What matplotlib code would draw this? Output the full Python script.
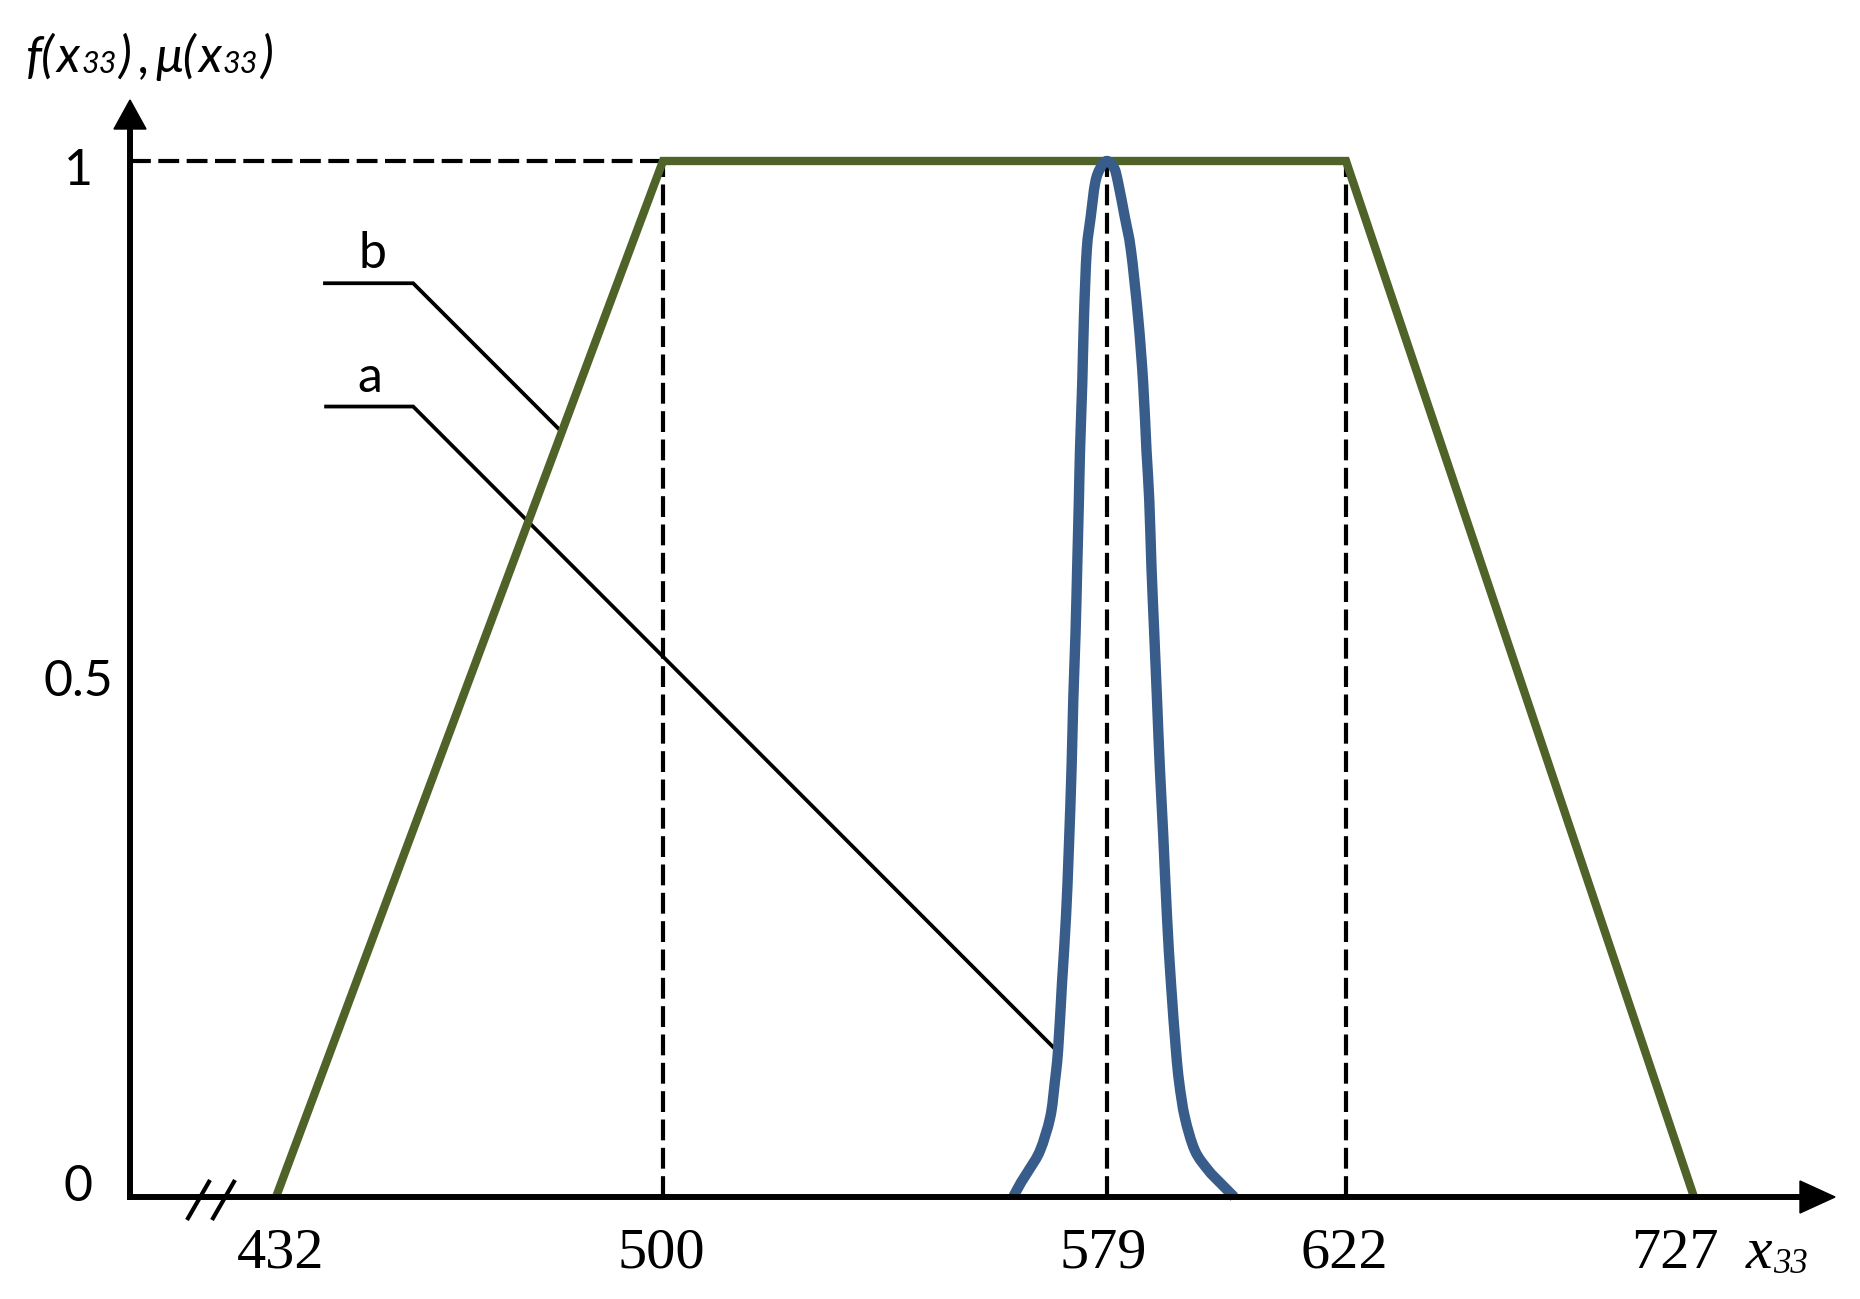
import numpy as np
import matplotlib
matplotlib.use("Agg")
import matplotlib.pyplot as plt
from matplotlib.lines import Line2D
from matplotlib.patches import Polygon, PathPatch
from matplotlib.path import Path

# ============================================================
# DATA
# ============================================================
# trapezoid membership function mu(x33)
trap_x = [432, 500, 622, 727]
trap_y = [0, 1, 1, 0]

# bell-shaped density f(x33) (peak at 579)
bell_x = [562.3, 563.7, 565.1, 567.1, 568.9, 569.7, 570.3, 571.0, 571.7, 572.2,
          572.7, 573.0, 573.4, 573.7, 574.0, 574.2, 574.6, 574.9, 575.4, 576.1,
          576.9, 577.8, 579.0, 580.3, 581.0, 582.2, 583.3, 584.6, 585.5, 586.1,
          586.6, 587.0, 587.5, 588.0, 588.5, 589.1, 589.8, 590.5, 591.4, 592.0,
          593.0, 594.8, 597.2, 599.3, 601.9]
bell_y = [0.0, 0.014, 0.026, 0.045, 0.077, 0.110, 0.142, 0.207, 0.270, 0.335,
          0.415, 0.480, 0.544, 0.608, 0.673, 0.721, 0.786, 0.849, 0.914, 0.946,
          0.979, 0.993, 1.0, 0.993, 0.979, 0.946, 0.914, 0.849, 0.786, 0.721,
          0.673, 0.608, 0.544, 0.480, 0.415, 0.351, 0.270, 0.207, 0.142, 0.110,
          0.077, 0.045, 0.026, 0.014, 0.0]
bell_peak = 579

x_ticks = [432, 500, 579, 622, 727]
y_ticks = ["1", "0.5", "0"]

GREEN = "#4F6228"
BLUE = "#385D8A"

W, H = 1860, 1299

# ============================================================
# FONTS
# ============================================================
plt.rcParams["font.family"] = ["Lato", "DejaVu Sans"]

fig = plt.figure(figsize=(W / 100, H / 100), dpi=100)

# axes box in reference pixels: y axis at x=130, x axis at y=1197
L, R, T, B = 130, 1835, 100, 1197
ax = fig.add_axes([L / W, 1 - B / H, (R - L) / W, (B - T) / H])

# the x axis is schematic: tick values are not evenly spaced
knot_val = [406.3, 432, 500, 579, 622, 727, 769.6]
knot_pos = [130, 276, 663, 1107, 1346, 1694, 1835]


def fwd(v):
    return np.interp(v, knot_val, knot_pos)


def inv(p):
    return np.interp(p, knot_pos, knot_val)


ax.set_xscale("function", functions=(fwd, inv))
ax.set_xlim(knot_val[0], knot_val[-1])
ax.set_ylim(0, (B - T) / 1036)
ax.axis("off")

# ============================================================
# CURVES
# ============================================================
ax.plot(trap_x, trap_y, color=GREEN, lw=6.0, solid_capstyle="butt",
        solid_joinstyle="miter", zorder=4, clip_on=False)

# smooth stroke through the read points (Catmull-Rom as cubic Beziers)
pts = np.column_stack([bell_x, bell_y])
ext = np.vstack([pts[0], pts, pts[-1]])
verts = [pts[0]]
codes = [Path.MOVETO]
for i in range(1, len(ext) - 2):
    p0, p1, p2, p3 = ext[i - 1], ext[i], ext[i + 1], ext[i + 2]
    verts += [p1 + (p2 - p0) / 6, p2 - (p3 - p1) / 6, p2]
    codes += [Path.CURVE4] * 3
ax.add_patch(PathPatch(Path(verts, codes), facecolor="none", edgecolor=BLUE,
                       lw=7.5, capstyle="butt", joinstyle="round", zorder=5,
                       clip_on=False))

# dashed guides
dash_kw = dict(color="black", lw=3.0, dashes=(5, 1.8), zorder=2)
ax.plot([knot_val[0], trap_x[1]], [1, 1], **dash_kw)
for xv in [trap_x[1], bell_peak, trap_x[2]]:
    ax.plot([xv, xv], [0, 1], **dash_kw)

# leader lines for labels a and b
ax.plot([440.6, 456.1, 482.3], [0.882, 0.882, 0.738], color="black", lw=2.7,
        solid_joinstyle="miter", zorder=3)
ax.plot([440.8, 456.1, 570.1], [0.763, 0.763, 0.141], color="black", lw=2.7,
        solid_joinstyle="miter", zorder=3)
ax.text(449.0, 0.897, "b", fontsize=36, ha="center", va="baseline")
ax.text(448.5, 0.777, "a", fontsize=36, ha="center", va="baseline")

# ============================================================
# AXES WITH ARROWS (drawn in reference pixels)
# ============================================================
def px(x, y):
    return (x / W, 1 - y / H)


def fig_line(pts, lw):
    xs, ys = zip(*[px(*p) for p in pts])
    fig.add_artist(Line2D(xs, ys, color="black", lw=lw,
                          solid_capstyle="butt", transform=fig.transFigure))


fig_line([(130, 1200), (130, 126)], 4.3)
fig_line([(127, 1197), (1802, 1197)], 4.3)
fig.add_artist(Polygon([px(130, 100), px(114, 129), px(146, 129)],
                       closed=True, color="black", transform=fig.transFigure))
fig.add_artist(Polygon([px(1835, 1197), px(1800, 1181), px(1800, 1213)],
                       closed=True, color="black", transform=fig.transFigure))

# axis break marks
fig_line([(187, 1220), (210, 1180)], 3.0)
fig_line([(212, 1220), (235, 1180)], 3.0)

# ============================================================
# TICK LABELS
# ============================================================
ytick_y = [0.977, 0.484, -0.004]
for lab, yv in zip(y_ticks, ytick_y):
    ax.text((78 - L) / (R - L), yv, lab, fontsize=36, ha="center",
            va="baseline", transform=ax.get_yaxis_transform())

xtick_dx = [3, -1, -3, -1, -14]
for xv, dx in zip(x_ticks, xtick_dx):
    ax.annotate(str(xv), xy=(xv, 0), xycoords=("data", "axes fraction"),
                xytext=(dx, -51), textcoords="offset points",
                ha="center", va="baseline", fontsize=42,
                family="Liberation Serif")


# axis titles with subscripts, laid out run after run
def runs(x0, y0, items, family):
    rend = fig.canvas.get_renderer()
    x = x0
    for s, size, dy, gap in items:
        t = fig.text(x / W, 1 - (y0 + dy) / H, s, fontsize=size, ha="left",
                     va="baseline", style="italic", family=family)
        x += t.get_window_extent(rend).width + gap


runs(1746, 1268, [("x", 43, 0, 1), ("33", 25, 5, 0)],
     ["Liberation Serif", "DejaVu Serif"])
runs(26, 72, [("f(", 36, 0, 2), ("x", 36, 0, 1), ("33", 22, 1, 2),
              (")", 36, 0, 7), (",", 36, 0, 6), ("μ(", 36, 0, 2),
              ("x", 36, 0, 1), ("33", 22, 1, 3), (")", 36, 0, 0)],
     ["Lato", "DejaVu Sans"])

fig.savefig("out.png", dpi=100)
